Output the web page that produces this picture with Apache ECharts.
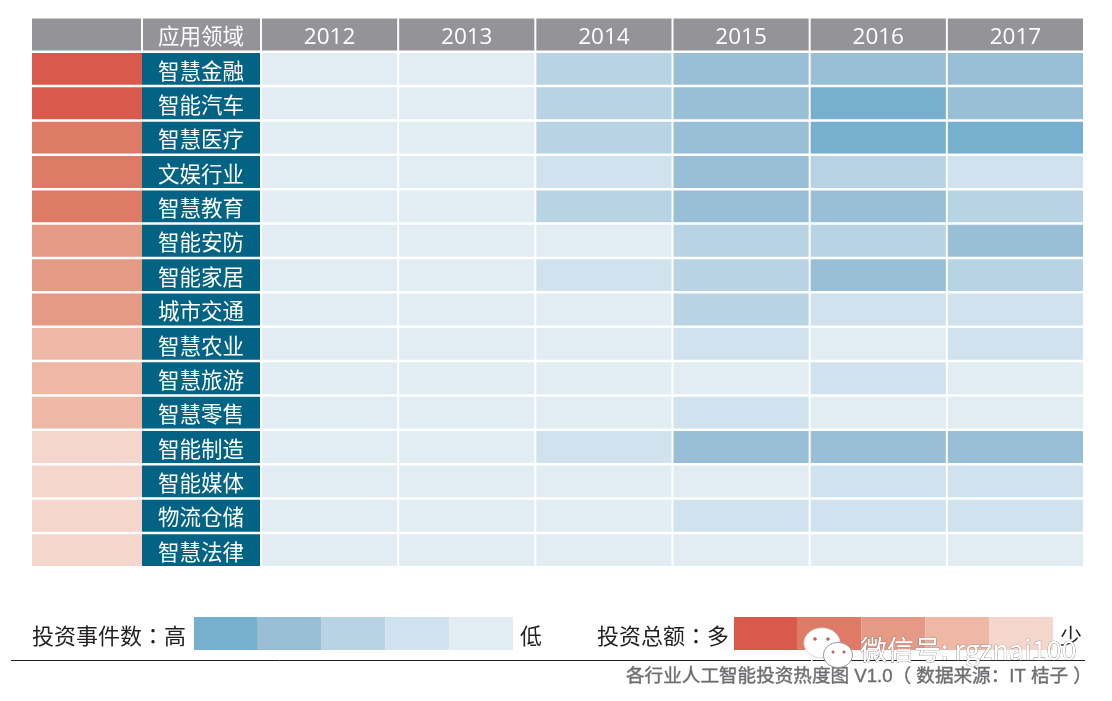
<!DOCTYPE html>
<html><head><meta charset="utf-8">
<style>html,body{margin:0;padding:0;background:#fff;overflow:hidden}#c{width:1112px;height:701px}</style>
<script src="https://cdn.jsdelivr.net/npm/echarts@6/dist/echarts.min.js"></script>
</head><body><div id="c"></div>
<script>
const years = ['2012','2013','2014','2015','2016','2017'];
const fieldHeader = '应用领域';
const fields = ['智慧金融','智能汽车','智慧医疗','文娱行业','智慧教育','智能安防','智能家居','城市交通','智慧农业','智慧旅游','智慧零售','智能制造','智能媒体','物流仓储','智慧法律'];
// 投资总额 level per field, 5 = 多 ... 1 = 少
const amountLevels = [5,5,4,4,4,3,3,3,2,2,2,1,1,1,1];
// 投资事件数 level per field and year, 5 = 高 ... 1 = 低
const eventLevels = [
 [1,1,3,4,4,4],
 [1,1,3,4,5,4],
 [1,1,3,4,5,5],
 [1,1,2,4,3,2],
 [1,1,3,4,4,3],
 [1,1,1,3,3,4],
 [1,1,2,3,4,3],
 [1,1,1,3,2,2],
 [1,1,1,2,1,2],
 [1,1,1,1,2,1],
 [1,1,1,2,1,1],
 [1,1,2,4,4,4],
 [1,1,1,1,2,2],
 [1,1,1,2,2,2],
 [1,1,1,1,1,1]
];
const blues = ['#E2EDF3','#D0E2ED','#B8D3E3','#98BFD6','#76B0CE'];
const reds = ['#F5D6CC','#EFB8A6','#E59A85','#DE7B67','#D9594C'];
const legendLevels = [5,4,3,2,1];
const gray = '#949498', teal = '#036384';
const cjk = '"Noto Sans CJK SC","Noto Sans",sans-serif';
const cjkCentredColon = '"Noto Sans CJK TC","Noto Sans",sans-serif';
const digits = '"Open Sans","Noto Sans",sans-serif';
const footerFont = '"Liberation Sans","Noto Sans CJK SC",sans-serif';
const rowNames = [fieldHeader].concat(fields);

// Generic cell: value [x, y, fill, text]
function cell(gapX, gapY){
  return function(params, api){
    const c = api.coord([api.value(0), api.value(1)]);
    const s = api.size([1, 1]);
    const x = c[0]-s[0]/2, y = c[1]-s[1]/2;
    const w = s[0]-gapX, h = s[1]-gapY;
    const children = [{type:'rect', shape:{x,y,width:w,height:h}, style:{fill:api.value(2)}}];
    const t = api.value(3);
    if(t && t !== '-'){
      const isNum = /^\d/.test(t);
      children.push({type:'text', style:{
        x:x+w/2, y:y+h/2+(isNum?3:1.5), text:t, fill:'#fff', align:'center', verticalAlign:'middle',
        font:(isNum?'22.5px ':'21.5px ')+(isNum?digits:cjk)}});
    }
    return {type:'group', children};
  };
}
const dims = [{name:'x',type:'ordinal'},{name:'y',type:'ordinal'},{name:'fill',type:'ordinal'},{name:'text',type:'ordinal'}];
function cellSeries(gridIndex, data, gapX, gapY){
  return {type:'custom', xAxisIndex:gridIndex, yAxisIndex:gridIndex, silent:true,
    renderItem:cell(gapX,gapY), encode:{x:0,y:1},
    dimensions:dims, data, animation:false, clip:false};
}
const amountData = [['总额',fieldHeader,gray,'-']].concat(fields.map((f,i)=>['总额',f,reds[amountLevels[i]-1],'-']));
const nameData = [['领域',fieldHeader,gray,fieldHeader]].concat(fields.map(f=>['领域',f,teal,f]));
const heatData = years.map(y=>[y,fieldHeader,gray,y]);
fields.forEach((f,r)=>years.forEach((y,i)=>heatData.push([y,f,blues[eventLevels[r][i]-1],'-'])));
const legendNames = legendLevels.map(String);
const legendBlue = legendLevels.map(l=>[String(l),'事件数',blues[l-1],'-']);
const legendRed = legendLevels.map(l=>[String(l),'总额',reds[l-1],'-']);

const rowAxis = i=>({type:'category',gridIndex:i,show:false,inverse:true,data:rowNames});
const colAxis = (i,d)=>({type:'category',gridIndex:i,show:false,data:d});
const gridTop=18.5, gridH=550;
const txt=(x,y,t,o)=>({type:'text',z:5,style:Object.assign({x,y,text:t,fill:'#231f20',verticalAlign:'middle',font:'22px '+cjkCentredColon},o||{})});
const eyes = '#b9625a';

const option = {
  animation:false, backgroundColor:'#fff',
  grid:[
    {left:32,width:110,top:gridTop,height:gridH},
    {left:142,width:118,top:gridTop,height:gridH},
    {left:262,width:823,top:gridTop,height:gridH},
    {left:194,width:319,top:617,height:33},
    {left:734,width:319,top:617,height:33}
  ],
  xAxis:[colAxis(0,['总额']),colAxis(1,['领域']),colAxis(2,years),colAxis(3,legendNames),colAxis(4,legendNames)],
  yAxis:[rowAxis(0),rowAxis(1),rowAxis(2),
    {type:'category',gridIndex:3,show:false,data:['事件数']},
    {type:'category',gridIndex:4,show:false,data:['总额']}],
  series:[
    cellSeries(0,amountData,0,2.4),
    cellSeries(1,nameData,0,2.4),
    cellSeries(2,heatData,2,2.4),
    cellSeries(3,legendBlue,0,0),
    cellSeries(4,legendRed,0,0)
  ],
  graphic:[
    {type:'rect',z:4,shape:{x:141,y:18,width:2,height:34},style:{fill:'#fff'}},
    txt(32,636,'投资事件数：高'),
    txt(520,636,'低'),
    txt(597,636,'投资总额：多'),
    txt(1060,636,'少'),
    {type:'line',z:5,shape:{x1:11,y1:660.5,x2:1085,y2:660.5},style:{stroke:'#231f20',lineWidth:1}},
    txt(626,677,'各行业人工智能投资热度图 V1.0（ 数据来源：IT 桔子 ）',{fill:'#6d6e71',stroke:'#6d6e71',lineWidth:0.4,font:'18.6px '+footerFont}),
    // watermark
    {type:'polygon',z:6,shape:{points:[[811,654],[819,654],[811,662]]},style:{fill:'#fff'}},
    {type:'ellipse',z:6,shape:{cx:822,cy:643,rx:18,ry:15},style:{fill:'#fff',stroke:'#d8d8d8',lineWidth:1}},
    {type:'circle',z:6,shape:{cx:815,cy:639,r:1.8},style:{fill:eyes}},
    {type:'circle',z:6,shape:{cx:828,cy:639,r:1.8},style:{fill:eyes}},
    {type:'polygon',z:7,shape:{points:[[843,662],[851,662],[850,669]]},style:{fill:'#fff'}},
    {type:'ellipse',z:7,shape:{cx:838,cy:655,rx:14.5,ry:12.5},style:{fill:'#fff',stroke:'#999',lineWidth:1}},
    {type:'circle',z:7,shape:{cx:833,cy:652,r:1.5},style:{fill:eyes}},
    {type:'circle',z:7,shape:{cx:844,cy:652,r:1.5},style:{fill:eyes}},
    txt(860,650,'微信号: rgznai100',{z:8,fill:'#fff',stroke:'#777',lineWidth:0.7,font:'27px '+cjk})
  ]
};
const chart = echarts.init(document.getElementById('c'),null,{renderer:'canvas'});
chart.setOption(option);
</script></body></html>
